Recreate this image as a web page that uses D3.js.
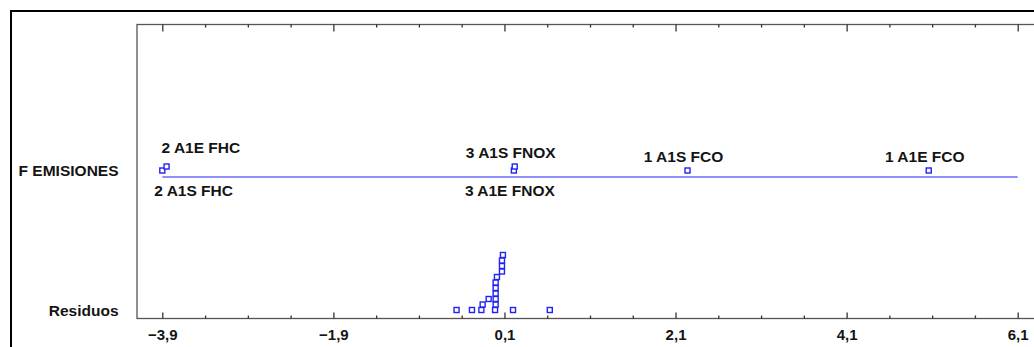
<!DOCTYPE html>
<html>
<head>
<meta charset="utf-8">
<script src="https://cdn.jsdelivr.net/npm/d3@7"></script>
<style>
  html, body { margin: 0; padding: 0; background: #fff; }
  svg { display: block; }
  text { font-family: "Liberation Sans", Arial, sans-serif; font-weight: bold; fill: #141414; }
</style>
</head>
<body>
<svg id="chart" width="1034" height="347"></svg>
<script>
// ---- data ----
const categories = ["F EMISIONES", "Residuos"];
const effectLabels = ["2 A1S FHC", "2 A1E FHC", "3 A1E FNOX", "3 A1S FNOX", "1 A1S FCO", "1 A1E FCO"];
const effectValues = [-3.90, -3.85, 0.21, 0.22, 2.24, 5.06];
const effectStack = [0, 1, 0, 1, 0, 0];
const effectLabelSide = ["below", "above", "below", "above", "above", "above"];
const residualValues = [-0.46, -0.28, -0.17, -0.01, 0.20, 0.63, -0.155, -0.085,
  -0.003, -0.003, -0.003, -0.003, -0.003, 0.012, 0.071, 0.071, 0.071, 0.082];
const residualStack = [0, 0, 0, 0, 0, 0, 1, 2, 1, 2, 3, 4, 5, 6, 7, 8, 9, 10];
const xTickLabels = [-3.9, -1.9, 0.1, 2.1, 4.1, 6.1];
const xMinorStep = 0.5;

// ---- layout ----
const svg = d3.select("#chart");
const plotLeft = 137, plotTop = 24.5, plotBottom = 318.5, plotRight = 1045;
const x = d3.scaleLinear().domain([-3.9, 6.1]).range([162.3, 1017.7]);
const y = d3.scalePoint().domain(categories).range([170.5, 310]);
const stackStep = { "F EMISIONES": 4, "Residuos": 5.5 };
const blue = "#2222f5";
const labelSize = 15.5;
const es = d3.formatLocale({ decimal: ",", thousands: ".", grouping: [3], currency: ["", ""] }).format(".1f");

// outer frame
svg.append("rect").attr("x", 11).attr("y", 11).attr("width", 1040).attr("height", 360)
  .attr("fill", "none").attr("stroke", "#000").attr("stroke-width", 2);

// plot frame
svg.append("rect").attr("x", plotLeft).attr("y", plotTop)
  .attr("width", plotRight - plotLeft).attr("height", plotBottom - plotTop)
  .attr("fill", "none").attr("stroke", "#555").attr("stroke-width", 1.3);

// ticks
const minorTicks = d3.range(-3.9, 6.1 + 1e-9, xMinorStep).map(v => +v.toFixed(2));
const isMajor = v => xTickLabels.some(t => Math.abs(t - v) < 1e-6);

const bottomAxis = d3.axisBottom(x).tickValues(minorTicks).tickSizeInner(0).tickSizeOuter(0).tickFormat("");
const gB = svg.append("g").attr("transform", `translate(0,${plotBottom})`).call(bottomAxis);
gB.select(".domain").remove();
gB.selectAll(".tick line").attr("y2", d => isMajor(d) ? -6 : -3).attr("stroke", "#333").attr("stroke-width", 1.3);
gB.selectAll(".tick text").remove();
gB.selectAll(".tick").filter(d => isMajor(d)).append("text")
  .attr("y", 21).attr("text-anchor", "middle").attr("font-size", 15)
  .text(d => es(d));

const topAxis = d3.axisTop(x).tickValues(minorTicks).tickSizeInner(0).tickSizeOuter(0).tickFormat("");
const gT = svg.append("g").attr("transform", `translate(0,${plotTop})`).call(topAxis);
gT.select(".domain").remove();
gT.selectAll(".tick line").attr("y2", d => isMajor(d) ? 7 : 3).attr("stroke", "#333").attr("stroke-width", 1.3);

// category labels
svg.selectAll("text.cat").data(categories).join("text").attr("class", "cat")
  .attr("x", 118.5).attr("y", d => y(d) + 5.5).attr("text-anchor", "end")
  .attr("font-size", labelSize).text(d => d);

// effect baseline
svg.append("line").attr("x1", x(-3.9)).attr("x2", x(6.1))
  .attr("y1", y("F EMISIONES") + 6.5).attr("y2", y("F EMISIONES") + 6.5)
  .attr("stroke", blue).attr("stroke-width", 1.2);

// points
const effects = effectValues.map((v, i) => ({ v, label: effectLabels[i], s: effectStack[i], side: effectLabelSide[i], cat: "F EMISIONES" }));
const residuals = residualValues.map((v, i) => ({ v, s: residualStack[i], cat: "Residuos" }));
const py = d => y(d.cat) - d.s * stackStep[d.cat];
const sq = 5;
svg.selectAll("rect.pt").data(effects.concat(residuals)).join("rect").attr("class", "pt")
  .attr("x", d => x(d.v) - sq / 2).attr("y", d => py(d) - sq / 2)
  .attr("width", sq).attr("height", sq)
  .attr("fill", "#fff").attr("stroke", blue).attr("stroke-width", 1.4);

// effect labels
const labelNudge = { "2 A1E FHC": -5 };
const nearLeft = d => x(d.v) - 40 < plotLeft + 10;
svg.selectAll("text.lab").data(effects).join("text").attr("class", "lab")
  .attr("font-size", labelSize)
  .attr("text-anchor", d => nearLeft(d) ? "start" : "middle")
  .attr("x", d => nearLeft(d) ? x(d.v) - (d.side === "above" ? 5 : 8) : x(d.v) - 4)
  .attr("y", d => d.side === "above" ? py(d) - 9 + (labelNudge[d.label] || 0) : y(d.cat) + 25.5)
  .text(d => d.label);
</script>
</body>
</html>
